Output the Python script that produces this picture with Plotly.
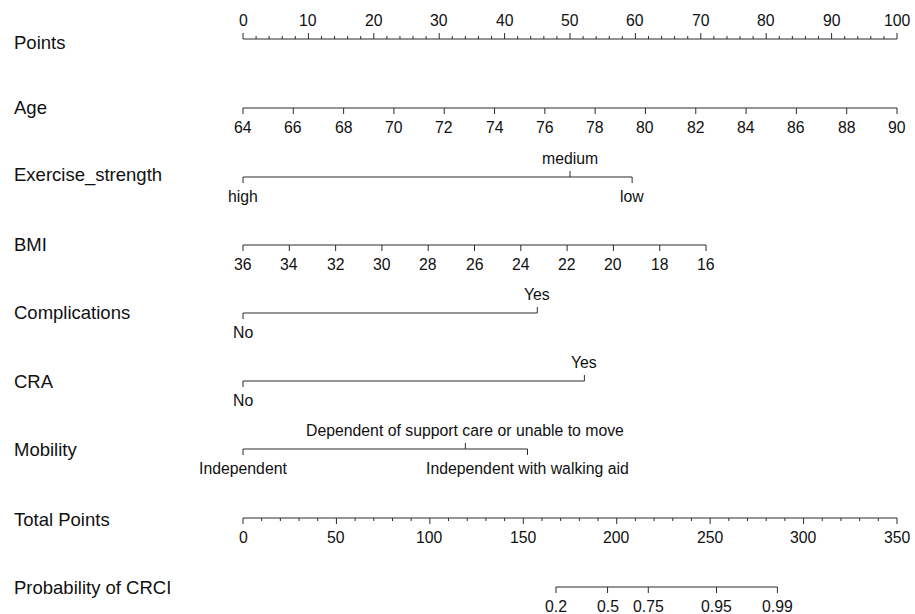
import plotly.graph_objects as go

# ---- nomogram data -------------------------------------------------------
POINTS_MAJOR = [0, 10, 20, 30, 40, 50, 60, 70, 80, 90, 100]
POINTS_MINOR = [2, 4, 6, 8, 12, 14, 16, 18, 22, 24, 26, 28, 32, 34, 36, 38,
                42, 44, 46, 48, 52, 54, 56, 58, 62, 64, 66, 68, 72, 74, 76, 78,
                82, 84, 86, 88, 92, 94, 96, 98]

AGE_TICKS = [64, 66, 68, 70, 72, 74, 76, 78, 80, 82, 84, 86, 88, 90]
AGE_ENDS = [64, 90]          # values at the two ends of the scale
AGE_ENDS_PTS = [0, 100]      # points at those ends

EXERCISE_LEVELS = ["high", "medium", "low"]
EXERCISE_PTS = [0, 50.0, 59.5]

BMI_TICKS = [36, 34, 32, 30, 28, 26, 24, 22, 20, 18, 16]
BMI_ENDS = [36, 16]
BMI_ENDS_PTS = [0, 70.8]

COMPLICATIONS_LEVELS = ["No", "Yes"]
COMPLICATIONS_PTS = [0, 45.0]

CRA_LEVELS = ["No", "Yes"]
CRA_PTS = [0, 52.2]

MOBILITY_LEVELS = ["Independent", "Dependent of support care or unable to move",
                   "Independent with walking aid"]
MOBILITY_PTS = [0, 34.0, 43.5]

TOTAL_MAJOR = [0, 50, 100, 150, 200, 250, 300, 350]
TOTAL_MINOR = [10, 20, 30, 40, 60, 70, 80, 90, 110, 120, 130, 140, 160, 170,
               180, 190, 210, 220, 230, 240, 260, 270, 280, 290, 310, 320,
               330, 340]
TOTAL_MAX = 350

PROB_LABELS = ["0.2", "0.5", "0.75", "0.95", "0.99"]
PROB_TOTAL = [167.5, 195.1, 216.9, 253.4, 286.0]

ROW_NAMES = ["Points", "Age", "Exercise_strength", "BMI", "Complications",
             "CRA", "Mobility", "Total Points", "Probability of CRCI"]

# ---- layout constants ----------------------------------------------------
W, H = 915, 614
X0_PX, X100_PX = 243, 897          # pixel position of 0 and 100 points
ROW_Y = [39, 108, 177, 245, 313, 381, 449, 518, 587]
NAME_Y = [42, 107, 175, 244, 312, 381, 449, 519, 587]
NAME_X_PX = 12
LINE_COLOR = "#2b2b2b"
TXT_COLOR = "#111111"
FONT = "Liberation Sans, Arial, Helvetica, sans-serif"
TICK_FS = 15.8
NAME_FS = 18.5
MAJOR_LEN = 6
MINOR_LEN = 3
LABEL_OFF = 19

px_per_pt = (X100_PX - X0_PX) / 100.0
x_lo = -X0_PX / px_per_pt
x_hi = (W - X0_PX) / px_per_pt


def lin(v, ends, ends_pts):
    return ends_pts[0] + (v - ends[0]) * (ends_pts[1] - ends_pts[0]) / (ends[1] - ends[0])


fig = go.Figure()
annotations = []


def add_axis(y, positions, labels, directions, minor=None):
    """positions in points; directions: +1 label below (tick down), -1 label above."""
    xs, ys = [min(positions), max(positions), None], [y, y, None]
    for p, d in zip(positions, directions):
        xs += [p, p, None]
        ys += [y, y + d * MAJOR_LEN, None]
    for p in (minor or []):
        d = directions[0]
        xs += [p, p, None]
        ys += [y, y + d * MINOR_LEN, None]
    fig.add_trace(go.Scatter(x=xs, y=ys, mode="lines",
                             line=dict(color=LINE_COLOR, width=1),
                             hoverinfo="skip", showlegend=False))
    for p, lab, d in zip(positions, labels, directions):
        annotations.append(dict(x=p, y=y + d * LABEL_OFF, xref="x", yref="y",
                                text=lab, showarrow=False,
                                font=dict(size=TICK_FS, color=TXT_COLOR, family=FONT),
                                xanchor="center", yanchor="middle"))


def alternate(pts):
    """Categorical labels alternate below / above along the scale."""
    order = sorted(range(len(pts)), key=lambda i: pts[i])
    dirs = [0] * len(pts)
    for rank, i in enumerate(order):
        dirs[i] = 1 if rank % 2 == 0 else -1
    return dirs


# Points
add_axis(ROW_Y[0], POINTS_MAJOR, [str(v) for v in POINTS_MAJOR],
         [-1] * len(POINTS_MAJOR), minor=POINTS_MINOR)
# Age
add_axis(ROW_Y[1], [lin(v, AGE_ENDS, AGE_ENDS_PTS) for v in AGE_TICKS],
         [str(v) for v in AGE_TICKS], [1] * len(AGE_TICKS))
# Exercise strength
add_axis(ROW_Y[2], EXERCISE_PTS, EXERCISE_LEVELS, alternate(EXERCISE_PTS))
# BMI
add_axis(ROW_Y[3], [lin(v, BMI_ENDS, BMI_ENDS_PTS) for v in BMI_TICKS],
         [str(v) for v in BMI_TICKS], [1] * len(BMI_TICKS))
# Complications
add_axis(ROW_Y[4], COMPLICATIONS_PTS, COMPLICATIONS_LEVELS, alternate(COMPLICATIONS_PTS))
# CRA
add_axis(ROW_Y[5], CRA_PTS, CRA_LEVELS, alternate(CRA_PTS))
# Mobility
add_axis(ROW_Y[6], MOBILITY_PTS, MOBILITY_LEVELS, alternate(MOBILITY_PTS))
# Total points
scale_total = 100.0 / TOTAL_MAX
add_axis(ROW_Y[7], [v * scale_total for v in TOTAL_MAJOR],
         [str(v) for v in TOTAL_MAJOR], [1] * len(TOTAL_MAJOR),
         minor=[v * scale_total for v in TOTAL_MINOR])
# Probability
add_axis(ROW_Y[8], [v * scale_total for v in PROB_TOTAL], PROB_LABELS,
         [1] * len(PROB_LABELS))

# row names
for name, y in zip(ROW_NAMES, NAME_Y):
    annotations.append(dict(x=NAME_X_PX / W, y=y, xref="paper", yref="y", text=name,
                            showarrow=False, xanchor="left", yanchor="middle",
                            font=dict(size=NAME_FS, color=TXT_COLOR, family=FONT)))

fig.update_layout(
    width=W, height=H,
    margin=dict(l=0, r=0, t=0, b=0),
    paper_bgcolor="white", plot_bgcolor="white",
    xaxis=dict(range=[x_lo, x_hi], visible=False, fixedrange=True),
    yaxis=dict(range=[H, 0], visible=False, fixedrange=True),
    annotations=annotations,
    showlegend=False,
)

fig.write_html("out.html")
